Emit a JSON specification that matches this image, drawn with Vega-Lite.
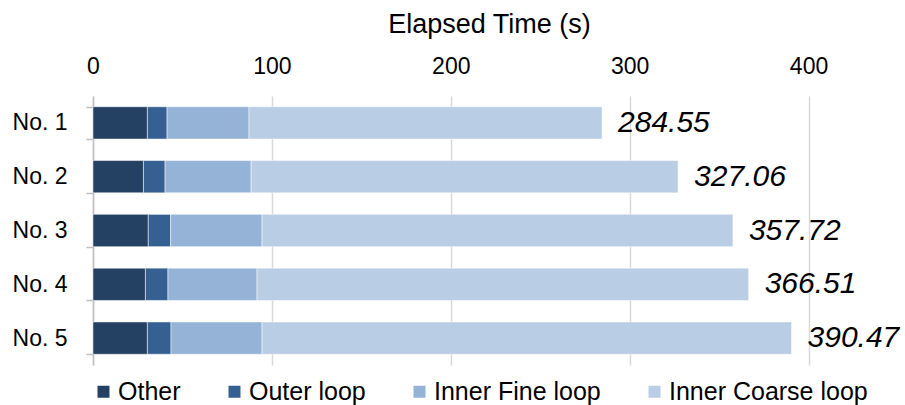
{
  "$schema": "https://vega.github.io/schema/vega-lite/v6.json",
  "autosize": "none",
  "padding": {"left": 93, "top": 96, "right": 7, "bottom": 40},
  "width": 805,
  "height": 269,
  "background": "white",
  "config": {"font": "Liberation Sans", "view": {"stroke": null}},
  "datasets": {
    "parts": [
      {"run": "No. 1", "part": "Other", "ord": 1, "time": 30.4},
      {"run": "No. 1", "part": "Outer loop", "ord": 2, "time": 11.0},
      {"run": "No. 1", "part": "Inner Fine loop", "ord": 3, "time": 45.8},
      {"run": "No. 1", "part": "Inner Coarse loop", "ord": 4, "time": 197.35},
      {"run": "No. 2", "part": "Other", "ord": 1, "time": 28.2},
      {"run": "No. 2", "part": "Outer loop", "ord": 2, "time": 12.1},
      {"run": "No. 2", "part": "Inner Fine loop", "ord": 3, "time": 48.1},
      {"run": "No. 2", "part": "Inner Coarse loop", "ord": 4, "time": 238.66},
      {"run": "No. 3", "part": "Other", "ord": 1, "time": 30.9},
      {"run": "No. 3", "part": "Outer loop", "ord": 2, "time": 12.5},
      {"run": "No. 3", "part": "Inner Fine loop", "ord": 3, "time": 51.1},
      {"run": "No. 3", "part": "Inner Coarse loop", "ord": 4, "time": 263.22},
      {"run": "No. 4", "part": "Other", "ord": 1, "time": 29.3},
      {"run": "No. 4", "part": "Outer loop", "ord": 2, "time": 12.6},
      {"run": "No. 4", "part": "Inner Fine loop", "ord": 3, "time": 49.8},
      {"run": "No. 4", "part": "Inner Coarse loop", "ord": 4, "time": 274.81},
      {"run": "No. 5", "part": "Other", "ord": 1, "time": 30.4},
      {"run": "No. 5", "part": "Outer loop", "ord": 2, "time": 13.2},
      {"run": "No. 5", "part": "Inner Fine loop", "ord": 3, "time": 50.9},
      {"run": "No. 5", "part": "Inner Coarse loop", "ord": 4, "time": 295.97}
    ],
    "totals": [
      {"run": "No. 1", "total": 284.55},
      {"run": "No. 2", "total": 327.06},
      {"run": "No. 3", "total": 357.72},
      {"run": "No. 4", "total": 366.51},
      {"run": "No. 5", "total": 390.47}
    ]
  },
  "layer": [
    {
      "data": {"name": "parts"},
      "mark": {"type": "bar", "stroke": "white", "strokeWidth": 0.5},
      "encoding": {
        "y": {
          "field": "run", "type": "nominal", "sort": null,
          "scale": {"paddingInner": 0.4, "paddingOuter": 0.2},
          "axis": {
            "title": null, "grid": false,
            "domainColor": "#BFBFBF", "domainWidth": 1.5,
            "tickColor": "#BFBFBF", "tickWidth": 1.5, "tickSize": 7,
            "tickBand": "extent",
            "labelFontSize": 23, "labelColor": "black", "labelPadding": 19
          }
        },
        "x": {
          "field": "time", "type": "quantitative", "stack": "zero",
          "scale": {"domain": [0, 450], "nice": false},
          "axis": {
            "orient": "top", "title": "Elapsed Time (s)",
            "values": [0, 100, 200, 300, 400],
            "domain": false, "ticks": false, "tickSize": 0,
            "labelFlush": false,
            "labelFontSize": 23, "labelColor": "black", "labelPadding": 18,
            "grid": true, "gridColor": "#D9D9D9", "gridWidth": 1.5,
            "titleFontSize": 27, "titleFontWeight": "normal", "titleColor": "black",
            "titleY": -64, "titleBaseline": "alphabetic", "titleX": 396
          }
        },
        "color": {
          "field": "part", "type": "nominal",
          "scale": {
            "domain": ["Other", "Outer loop", "Inner Fine loop", "Inner Coarse loop"],
            "range": ["#244062", "#366092", "#95B3D7", "#B9CDE5"]
          },
          "legend": {
            "orient": "none", "legendX": -2, "legendY": 283,
            "direction": "horizontal", "title": null,
            "symbolType": "square", "symbolSize": 144, "symbolStrokeWidth": 0,
            "labelFontSize": 25, "labelColor": "black", "labelOffset": 2,
            "labelLimit": 400,
            "columnPadding": 41, "padding": 0
          }
        },
        "order": {"field": "ord", "type": "quantitative"}
      }
    },
    {
      "data": {"name": "totals"},
      "mark": {"type": "text", "align": "left", "baseline": "middle", "dx": 16, "fontSize": 30, "fontStyle": "italic", "color": "black"},
      "encoding": {
        "y": {"field": "run", "type": "nominal", "sort": null},
        "x": {"field": "total", "type": "quantitative"},
        "text": {"field": "total", "type": "quantitative", "format": ".2f"}
      }
    }
  ]
}
